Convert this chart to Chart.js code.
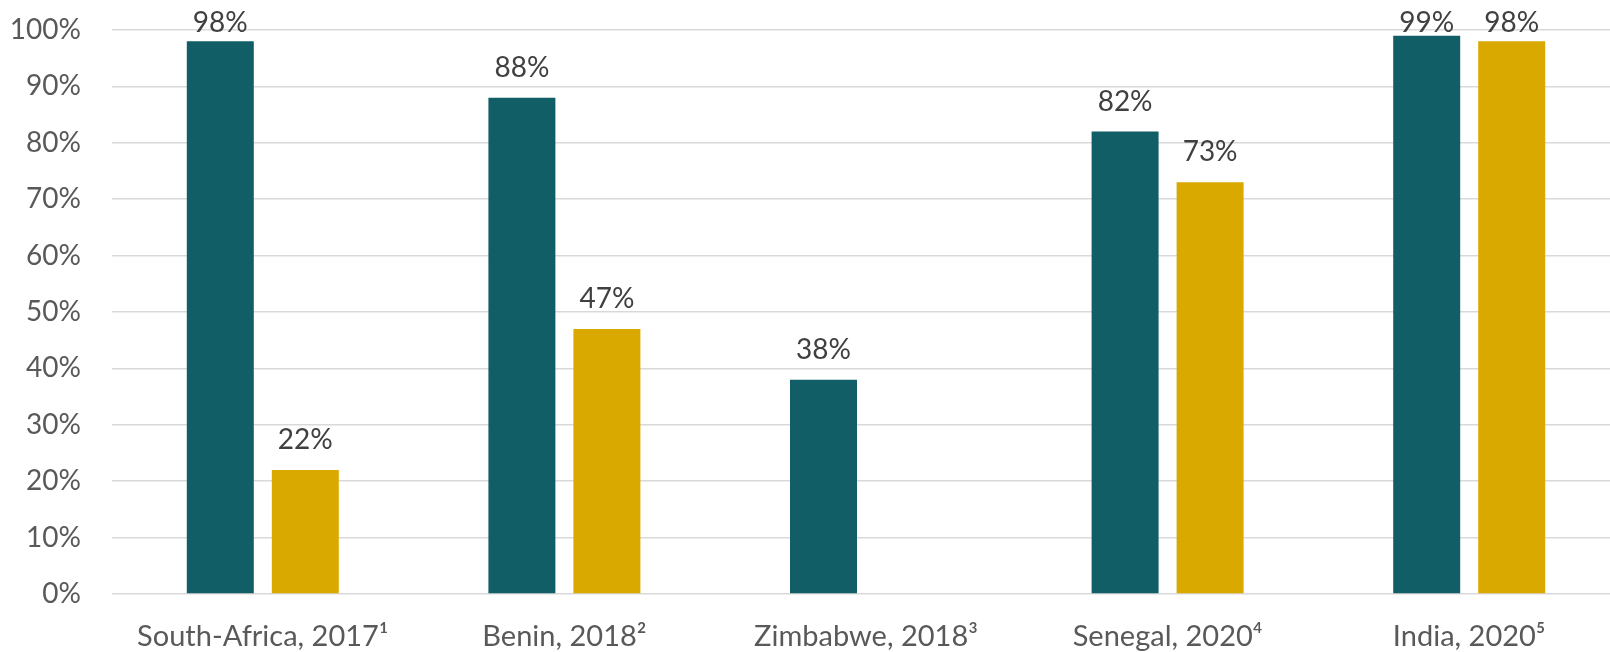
<!DOCTYPE html>
<html>
<head>
<meta charset="utf-8">
<script src="https://cdn.jsdelivr.net/npm/chart.js@4/dist/chart.umd.min.js"></script>
<style>
  html, body { margin: 0; padding: 0; background: #fff; overflow: hidden; }
  #wrap { position: relative; width: 1620px; height: 652px; }
</style>
</head>
<body>
<div id="wrap"><canvas id="c"></canvas></div>
<script>
const categories = ['South-Africa, 2017\u00B9', 'Benin, 2018\u00B2', 'Zimbabwe, 2018\u00B3', 'Senegal, 2020\u2074', 'India, 2020\u2075'];
const seriesA = [98, 88, 38, 82, 99];
const seriesB = [22, 47, null, 73, 98];
const yTicks = [0, 10, 20, 30, 40, 50, 60, 70, 80, 90, 100];

const FONT = 'Lato';

const labelPlugin = {
  id: 'barLabels',
  afterDatasetsDraw(chart) {
    const ctx = chart.ctx;
    ctx.save();
    ctx.font = '28px ' + FONT;
    ctx.fillStyle = '#404040';
    ctx.textAlign = 'center';
    ctx.textBaseline = 'alphabetic';
    chart.data.datasets.forEach((ds, di) => {
      const meta = chart.getDatasetMeta(di);
      meta.data.forEach((el, i) => {
        const v = ds.data[i];
        if (v === null || v === undefined) return;
        const y = Math.max(el.y - 21, 32);
        ctx.fillText(v + '%', el.x, y);
      });
    });
    ctx.restore();
  }
};

new Chart(document.getElementById('c'), {
  type: 'bar',
  data: {
    labels: categories,
    datasets: [
      { label: 'A', data: seriesA, backgroundColor: '#115E67', categoryPercentage: 0.5637, barPercentage: 0.788 },
      { label: 'B', data: seriesB, backgroundColor: '#DAA900', categoryPercentage: 0.5637, barPercentage: 0.788 }
    ]
  },
  options: {
    responsive: true,
    maintainAspectRatio: false,
    animation: false,
    layout: { padding: { top: 30, right: 0, left: 0, bottom: 0 } },
    plugins: { legend: { display: false }, tooltip: { enabled: false } },
    scales: {
      x: {
        grid: { display: false },
        border: { display: false },
        ticks: { color: '#595959', font: { family: FONT, size: 29 }, padding: 17, maxRotation: 0, autoSkip: false },
        afterFit(scale) { scale.height = 58; }
      },
      y: {
        min: 0, max: 100,
        afterBuildTicks(scale) { scale.ticks = yTicks.map(v => ({ value: v })); },
        grid: { color: '#d9d9d9', lineWidth: 1.5, drawTicks: false },
        border: { display: false },
        ticks: { color: '#595959', font: { family: FONT, size: 28 }, padding: 31, callback: v => v + '%' },
        afterFit(scale) { scale.width = 112; scale.paddingTop = 0; scale.paddingBottom = 0; }
      }
    }
  },
  plugins: [labelPlugin]
});
</script>
</body>
</html>
